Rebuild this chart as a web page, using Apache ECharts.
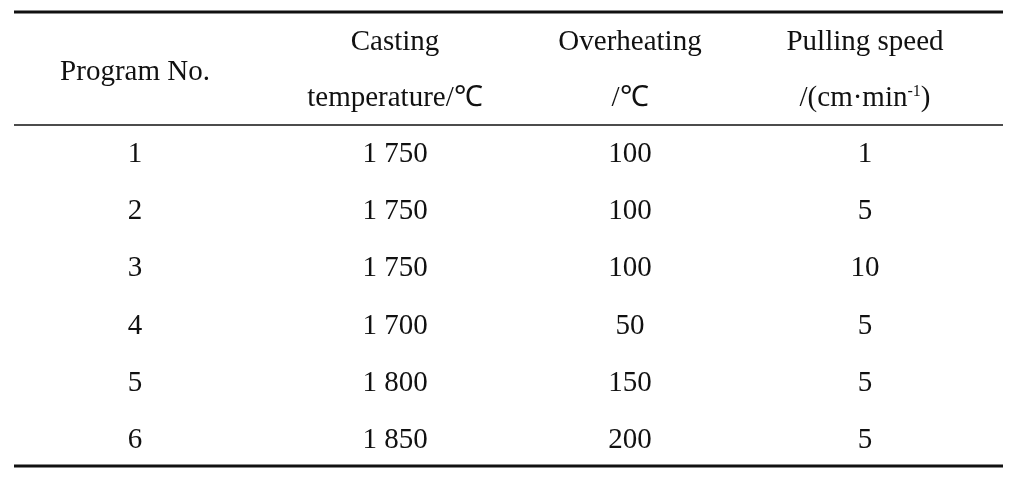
<!DOCTYPE html>
<html>
<head>
<meta charset="utf-8">
<script src="https://cdn.jsdelivr.net/npm/echarts@6/dist/echarts.min.js"></script>
<style>html,body{margin:0;padding:0;background:#fff}#main{width:1013px;height:495px}</style>
</head>
<body>
<div id="main"></div>
<script>
var chart = echarts.init(document.getElementById('main'));

// table data
var programNo = ['1', '2', '3', '4', '5', '6'];
var castingTemp = ['1 750', '1 750', '1 750', '1 700', '1 800', '1 850'];
var overheating = ['100', '100', '100', '50', '150', '200'];
var pullingSpeed = ['1', '5', '10', '5', '5', '5'];

var colX = [135, 395, 630, 865];
var rowY = [154, 211, 268, 326, 383, 440];
var font = '"Liberation Serif", "Times New Roman", serif';
var fs = 29;

var els = [];
function txt(x, y, t, rich) {
	els.push({
		type: 'text', x: x, y: y,
		style: {
			text: t, fill: '#111', font: fs + 'px ' + font,
			align: 'center', verticalAlign: 'middle', rich: rich
		}
	});
}
function line(y, w) {
	els.push({ type: 'line', shape: { x1: 14, y1: y, x2: 1003, y2: y }, style: { stroke: '#111', lineWidth: w } });
}

line(12, 3);
line(125, 1.5);
line(466, 3);

txt(colX[0], 72, 'Program No.');
txt(colX[1], 42, 'Casting');
txt(colX[1], 98, 'temperature/℃');
txt(colX[2], 42, 'Overheating');
txt(colX[2], 98, '/℃');
txt(colX[3], 42, 'Pulling speed');
txt(colX[3], 98, '/(cm·min{sup|-1})', {
	sup: { fontSize: 16, fontFamily: font, fill: '#111', verticalAlign: 'top', padding: [0, 0, 12, 0] }
});

var cols = [programNo, castingTemp, overheating, pullingSpeed];
cols.forEach(function(col, c) {
	col.forEach(function(v, r) { txt(colX[c], rowY[r], v); });
});

chart.setOption({ animation: false, graphic: { elements: els } });
</script>
</body>
</html>
